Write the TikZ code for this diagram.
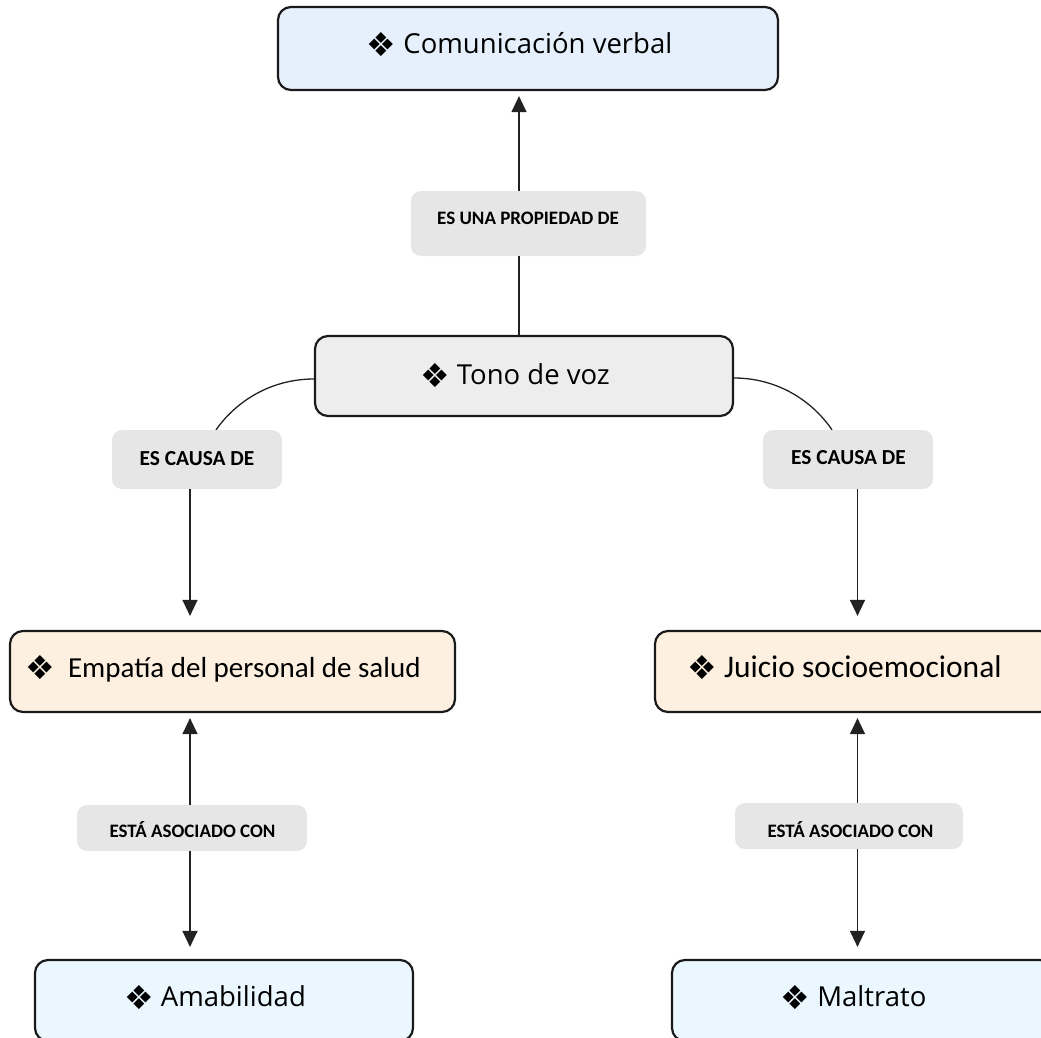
\documentclass[tikz,border=0pt]{standalone}
\usepackage{fontspec}
\newfontfamily\osans{Open Sans}
\newfontfamily\carl{Carlito}
\newfontfamily\djv{DejaVu Sans}
\usetikzlibrary{arrows.meta}
\definecolor{bluefill}{HTML}{E6F0FC}
\definecolor{grayfill}{HTML}{EDEDED}
\definecolor{peach}{HTML}{FDF0E1}
\definecolor{skyfill}{HTML}{EAF7FF}
\definecolor{lblfill}{HTML}{E6E6E6}
\definecolor{edgecol}{HTML}{1A1A1A}
\definecolor{linecol}{HTML}{222222}
\newcommand{\dia}{\raisebox{-2.5pt}{\djv\fontsize{33}{33}\selectfont ❖}}
\begin{document}
\begin{tikzpicture}[x=1pt,y=-1pt,
  bigbox/.style={draw=edgecol,line width=2.2pt,rounded corners=13pt,inner sep=0pt},
  lblbox/.style={fill=lblfill,rounded corners=10pt,inner sep=0pt},
  maintext/.style={inner sep=0pt,anchor=center,text depth=0pt,font=\osans\fontsize{27.5}{30}\selectfont,text height=19.6pt},
  carltext/.style={inner sep=0pt,anchor=center,text depth=0pt,font=\carl\fontsize{29}{32}\selectfont,text height=18.7pt},
  carltextbig/.style={inner sep=0pt,anchor=center,text depth=0pt,font=\carl\fontsize{31.5}{34}\selectfont,text height=20.3pt},
  lbltext/.style={inner sep=0pt,anchor=center,text depth=0pt,font=\carl\bfseries\fontsize{19}{21}\selectfont,text height=12.3pt},
  lbltextbig/.style={inner sep=0pt,anchor=center,text depth=0pt,font=\carl\bfseries\fontsize{21.4}{23}\selectfont,text height=13.8pt},
  conn/.style={draw=linecol,line width=1.3pt},
  arr/.style={conn,-{Triangle[width=15pt,length=16pt]}}]
\path[use as bounding box] (0,0) rectangle (1041,1038);
\clip (0,0) rectangle (1041,1038);

% boxes
\node[bigbox,fill=bluefill,minimum width=500pt,minimum height=83pt] (cv) at (528,48.5) {};
\node[bigbox,fill=grayfill,minimum width=418pt,minimum height=80pt] (tv) at (524,376) {};
\node[bigbox,fill=peach,minimum width=445pt,minimum height=81pt] (emp) at (232.5,671.5) {};
\node[bigbox,fill=peach,minimum width=398pt,minimum height=81pt] (jui) at (854,671.5) {};
\node[bigbox,fill=skyfill,minimum width=378pt,minimum height=81pt] (ama) at (224,1000.5) {};
\node[bigbox,fill=skyfill,minimum width=381pt,minimum height=81pt] (mal) at (862.5,1000.5) {};

% label boxes
\node[lblbox,minimum width=235pt,minimum height=65pt] (l0) at (528.5,223.5) {};
\node[lblbox,minimum width=170pt,minimum height=59pt] (l1) at (197,459.5) {};
\node[lblbox,minimum width=170pt,minimum height=59pt] (l2) at (848,459.5) {};
\node[lblbox,minimum width=230pt,minimum height=46pt] (l3) at (192,828) {};
\node[lblbox,minimum width=228pt,minimum height=46pt] (l4) at (849,826) {};

% texts
\node[maintext] (cvt) at (519.5,44) {\dia\ Comunicación verbal};
\node[maintext] (tvt) at (515,375) {\dia\ Tono de voz};
\node[carltext] (empt) at (223,668) {\dia\ \ Empatía del personal de salud};
\node[carltextbig] (juit) at (844.5,667) {\dia\ Juicio socioemocional};
\node[maintext] (amat) at (215,997) {\dia\ Amabilidad};
\node[maintext] (malt) at (853.5,997) {\dia\ Maltrato};

\node[lbltext] (l0t) at (528,218) {ES UNA PROPIEDAD DE};
\node[lbltextbig] (l1t) at (197,459) {ES CAUSA DE};
\node[lbltextbig] (l2t) at (848.5,458) {ES CAUSA DE};
\node[lbltext] (l3t) at (192.5,831) {ESTÁ ASOCIADO CON};
\node[lbltext] (l4t) at (850.5,831) {ESTÁ ASOCIADO CON};

% x positions of vertical connectors
\coordinate (xm) at (519,0);
\coordinate (xa) at (190,0);
\coordinate (xb) at (857.5,0);
\coordinate (c1) at (216,0);
\coordinate (c2) at (832,0);

% connectors
\draw[conn] (tv.north -| xm) -- (l0.south -| xm);
\draw[arr,shorten >=5pt] (l0.north -| xm) -- (cv.south -| xm);

\draw[conn] ([yshift=-3pt]tv.west) .. controls +(-39.3,0) and +(22.8,-32) .. (l1.north -| c1);
\draw[conn] ([yshift=-2pt]tv.east) .. controls +(39.5,0) and +(-22.4,-32.5) .. (l2.north -| c2);

\draw[arr,shorten >=14pt] (l1.south -| xa) -- (emp.north -| xa);
\draw[arr,shorten >=14pt] (l2.south -| xb) -- (jui.north -| xb);

\draw[arr,shorten >=5pt] (l3.north -| xa) -- (emp.south -| xa);
\draw[arr,shorten >=12pt] (l3.south -| xa) -- (ama.north -| xa);
\draw[arr,shorten >=5pt] (l4.north -| xb) -- (jui.south -| xb);
\draw[arr,shorten >=12pt] (l4.south -| xb) -- (mal.north -| xb);
\end{tikzpicture}
\end{document}
